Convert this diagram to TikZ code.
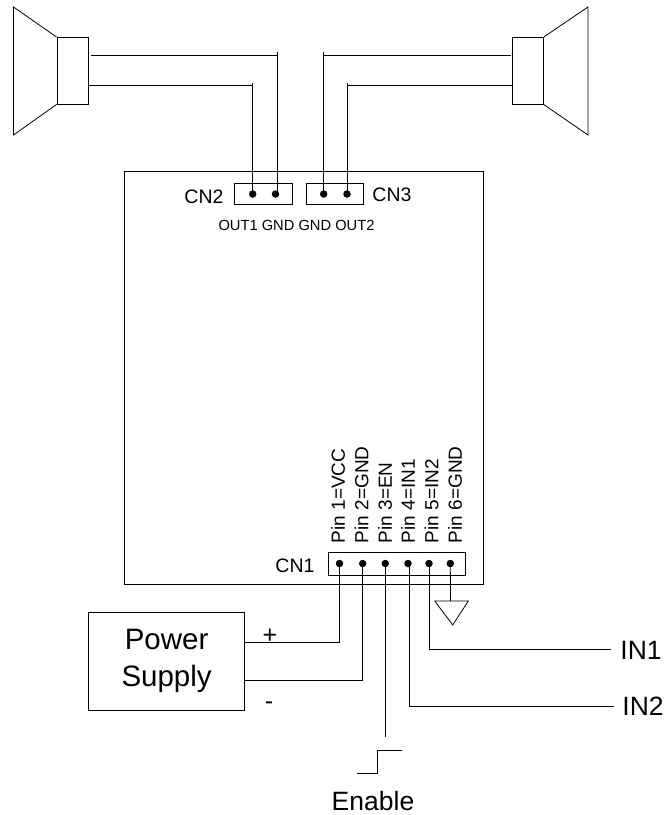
\documentclass[tikz,border=0pt]{standalone}
\usepackage{fontspec}
\setmainfont{Liberation Sans}
\begin{document}
\begin{tikzpicture}[x=1pt,y=-1pt,line width=0.8pt,
  box/.style={draw,inner sep=0pt,minimum width=#1},
  box/.default=10pt,
  pin/.style={circle,fill=black,inner sep=0pt,minimum size=7.5pt},
  small/.style={font=\fontsize{14.7}{16}\selectfont,inner sep=0pt},
  mid/.style={font=\fontsize{19.5}{22}\selectfont,inner sep=0pt},
  big/.style={font=\fontsize{26.5}{30}\selectfont,inner sep=0pt},
  pinlabel/.style={font=\fontsize{19}{22}\selectfont,inner sep=0pt,rotate=90,anchor=west}]
\useasboundingbox (0,0) rectangle (667,815);
% speakers
\node[box=31pt,minimum height=67pt] (spkL) at (72.5,70.5) {};
\node[box=31pt,minimum height=67pt] (spkR) at (527.7,70.5) {};
\draw (spkL.north west) ++(0,0.5) -- (13.5,7) -- (13.5,135) -- (spkL.south west);
\draw (spkR.north east) ++(0,0.5) -- (588,7) -- (588,135) -- (spkR.south east);
% main board
\node[box=358.5pt,minimum height=413pt] (board) at (303.75,377.5) {};
% connectors
\node[box=57.5pt,minimum height=21.5pt] (cn2) at (263.25,193.75) {};
\node[box=57pt,minimum height=21.5pt] (cn3) at (334.5,193.75) {};
\node[box=137.4pt,minimum height=23.3pt] (cn1) at (397,563.65) {};
\node[pin] (o1) at (252.7,194) {};
\node[pin] (g1) at (275.5,194) {};
\node[pin] (g2) at (323.7,194) {};
\node[pin] (o2) at (347,194) {};
\node[pin] (p1) at (339.5,563.5) {};
\node[pin] (p2) at (362.7,563.5) {};
\node[pin] (p3) at (385.3,563.5) {};
\node[pin] (p4) at (408,563.5) {};
\node[pin] (p5) at (429,563.5) {};
\node[pin] (p6) at (450.3,563.5) {};
% speaker wires
\coordinate (a1) at (90.5,55.5);
\coordinate (a2) at (277,55.5);
\coordinate (a3) at (277,52);
\coordinate (b2) at (252.7,85);
\coordinate (b3) at (252.7,83);
\coordinate (c2) at (323.7,55.5);
\coordinate (c3) at (323.7,52);
\coordinate (c4) at (510.7,55.5);
\coordinate (d2) at (347.3,85);
\coordinate (d3) at (347.3,83);
\draw (a1) -- (a2);
\draw (a3) -- (a3 |- g1.center);
\draw (spkL.east |- b2) -- (b2);
\draw (b3) -- (o1.center);
\draw (c3) -- (g2.center);
\draw (c2) -- (c4);
\draw (d3) -- (d3 |- o2.center);
\draw (d2) -- (spkR.west |- d2);
% power supply
\node[box=156pt,minimum height=98pt,align=center,font=\fontsize{29.5}{37}\selectfont] (ps) at (166.6,661)
  {Power\\Supply};
\draw (p1.center) |- (ps.east |- 0,642.3);
\draw (p2.center) |- (ps.east |- 0,680.5);
\node[font=\fontsize{25}{27}\selectfont,inner sep=0pt] (plus) at (270,636.5) {+};
\node[font=\fontsize{25}{27}\selectfont,inner sep=0pt] (minus) at (269,706) {-};
% enable
\coordinate (en) at (385,737);
\draw (p3.center) -- (p3 |- en);
\coordinate (s1) at (356.7,773.3);
\coordinate (s2) at (377.5,773.3);
\coordinate (s3) at (377.5,750.3);
\coordinate (s4) at (402,750.3);
\draw (s1) -- (s2) -- (s3) -- (s4);
\node[big] (enable) at (373,801.5) {Enable};
% inputs
\node[big,anchor=west] (in1) at (620,650) {IN1};
\node[big,anchor=west] (in2) at (622,706) {IN2};
\draw (p5.center) |- (610.7,649.3);
\draw (p4.center) ++(1,0) |- (614,706.7);
% ground
\coordinate (gt) at (450.5,601);
\draw (p6.center) -- (gt);
\draw (434.7,601) -- (468.3,601) -- (452.7,625) -- cycle;
% labels
\node[mid] (lcn2) at (204,197) {CN2};
\node[mid] (lcn3) at (392,194.5) {CN3};
\node[mid] (lcn1) at (295,566) {CN1};
\node[small] (outs) at (296.5,225) {OUT1 GND GND OUT2};
\node[pinlabel] (l1) at (338,543.5) {Pin 1=VCC};
\node[pinlabel] (l2) at (361.7,543.5) {Pin 2=GND};
\node[pinlabel] (l3) at (385,543.5) {Pin 3=EN};
\node[pinlabel] (l4) at (408,543.5) {Pin 4=IN1};
\node[pinlabel] (l5) at (431.5,543.5) {Pin 5=IN2};
\node[pinlabel] (l6) at (455,543.5) {Pin 6=GND};
\end{tikzpicture}
\end{document}
